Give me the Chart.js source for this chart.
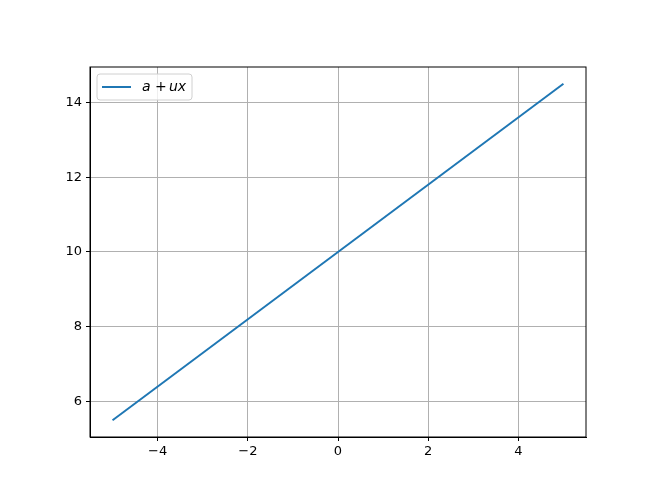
<!DOCTYPE html>
<html>
<head>
<meta charset="utf-8">
<script src="https://cdn.jsdelivr.net/npm/chart.js@4/dist/chart.umd.min.js"></script>
<style>
  html, body { margin: 0; padding: 0; background: #fff; }
  #wrap { width: 660px; height: 499px; }
</style>
</head>
<body>
<div id="wrap"><canvas id="lineChart"></canvas></div>
<script>
// values
const xValues = [-5, 0, 5];
const yValues = [5.5, 10, 14.5];
const xTicks = [-4, -2, 0, 2, 4];
const yTicks = [6, 8, 10, 12, 14];
const seriesLabel = 'a + ux';

const FONT = 'DejaVu Sans';

// matplotlib-style box around the plot and legend in the upper left
const frameAndLegend = {
  id: 'frameAndLegend',
  afterDraw(chart) {
    const { ctx, chartArea: a } = chart;
    ctx.save();
    ctx.strokeStyle = '#000';
    ctx.lineWidth = 1;
    ctx.strokeRect(a.left, a.top, a.right - a.left, a.bottom - a.top);

    const bx = a.left + 7, by = a.top + 7, bw = 95, bh = 26;
    ctx.fillStyle = 'rgba(255,255,255,0.8)';
    ctx.strokeStyle = '#d0d0d0';
    ctx.beginPath();
    ctx.roundRect(bx, by, bw, bh, 3);
    ctx.fill();
    ctx.stroke();

    ctx.strokeStyle = '#1f77b4';
    ctx.lineWidth = 2;
    ctx.beginPath();
    ctx.moveTo(bx + 5, by + 13);
    ctx.lineTo(bx + 34, by + 13);
    ctx.stroke();

    ctx.fillStyle = '#000';
    ctx.textBaseline = 'middle';
    ctx.font = 'italic 14px "' + FONT + '"';
    ctx.fillText('a', bx + 45, by + 13);
    ctx.font = '14px "' + FONT + '"';
    ctx.fillText('+', bx + 58, by + 13);
    ctx.font = 'italic 14px "' + FONT + '"';
    ctx.fillText('ux', bx + 72, by + 13);
    ctx.restore();
  }
};

const ctx = document.getElementById('lineChart').getContext('2d');

new Chart(ctx, {
  type: 'line',
  data: {
    datasets: [{
      label: seriesLabel,
      data: xValues.map((x, i) => ({ x: x, y: yValues[i] })),
      borderColor: '#1f77b4',
      borderWidth: 2,
      pointRadius: 0,
      fill: false,
      tension: 0
    }]
  },
  options: {
    responsive: true,
    maintainAspectRatio: false,
    animation: false,
    layout: { padding: { left: 0, right: 74, top: 67, bottom: 0 } },
    plugins: {
      legend: { display: false },
      tooltip: { enabled: false }
    },
    scales: {
      x: {
        type: 'linear',
        min: -5.5,
        max: 5.5,
        afterBuildTicks: axis => { axis.ticks = xTicks.map(v => ({ value: v })); },
        afterFit: axis => { axis.height = 62; },
        grid: { color: '#b0b0b0', lineWidth: 1, tickColor: '#000', tickLength: 4 },
        border: { color: '#000' },
        ticks: {
          color: '#000',
          padding: 3,
          maxRotation: 0,
          font: { family: FONT, size: 13 },
          callback: value => String(value).replace('-', '\u2212')
        }
      },
      y: {
        type: 'linear',
        min: 5.05,
        max: 14.95,
        afterBuildTicks: axis => { axis.ticks = yTicks.map(v => ({ value: v })); },
        afterFit: axis => { axis.width = 90; },
        grid: { color: '#b0b0b0', lineWidth: 1, tickColor: '#000', tickLength: 4 },
        border: { color: '#000' },
        ticks: {
          color: '#000',
          padding: 4,
          font: { family: FONT, size: 13 },
          callback: value => String(value)
        }
      }
    }
  },
  plugins: [frameAndLegend]
});
</script>
</body>
</html>
